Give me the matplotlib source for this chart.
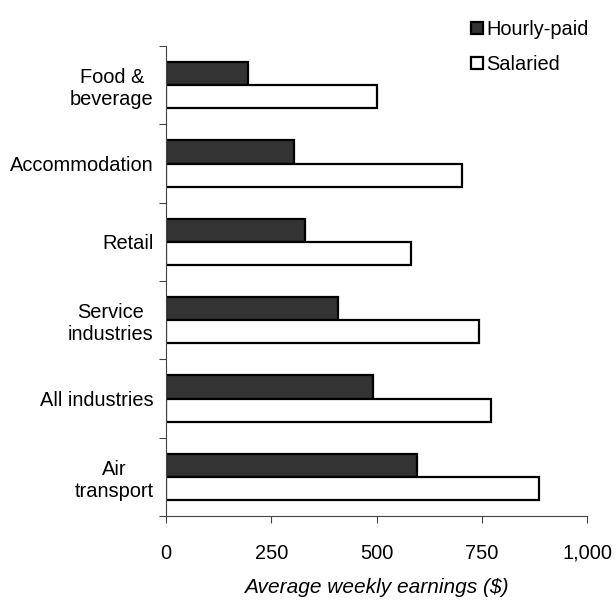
import matplotlib
matplotlib.use("Agg")
import matplotlib.pyplot as plt
import numpy as np

categories = ["Food &\nbeverage", "Accommodation", "Retail", "Service\nindustries",
              "All industries", "Air\ntransport"]
hourly = [194, 303, 329, 408, 491, 597]
salaried = [500, 704, 583, 744, 772, 887]
xticks = [0, 250, 500, 750, 1000]
xtick_labels = ["0", "250", "500", "750", "1,000"]

plt.rcParams['font.family'] = ['Liberation Sans', 'DejaVu Sans']
plt.rcParams['font.size'] = 14.4

fig = plt.figure(figsize=(6.16, 6.01), dpi=100)
ax = fig.add_axes([166/616, 1-516/601, (587-166)/616, (516-46)/601])

y = np.arange(len(categories))
h = 0.295
ax.barh(y - h/2, hourly, height=h, color='#333333', edgecolor='black', linewidth=1.6, label='Hourly-paid')
ax.barh(y + h/2, salaried, height=h, color='white', edgecolor='black', linewidth=1.6, label='Salaried')

ax.set_ylim(len(categories) - 0.5, -0.5)
ax.set_xlim(0, 1000)

# ticks at category boundaries, labels at centres
ax.set_yticks(np.arange(-0.5, len(categories), 1.0))
ax.set_yticklabels([])
ax.set_yticks(y, minor=True)
ax.set_yticklabels(categories, minor=True)
ax.tick_params(axis='y', which='minor', length=0, pad=9)
ax.tick_params(axis='y', which='major', length=5, color='#444444')
for lab in ax.get_yticklabels(minor=True):
    lab.set_multialignment('center')

ax.set_xticks(xticks)
ax.set_xticklabels(xtick_labels)
ax.tick_params(axis='x', length=5, color='#444444', pad=15)
ax.set_xlabel("Average weekly earnings ($)", style='italic', fontsize=15, labelpad=11)

for s in ['top', 'right']:
    ax.spines[s].set_visible(False)
for s in ['left', 'bottom']:
    ax.spines[s].set_color('#444444')

fig.legend(loc='upper left', bbox_to_anchor=(471/616, 1-20/601), frameon=False,
           borderpad=0, borderaxespad=0, handlelength=0.6, handleheight=0.6,
           handletextpad=0.15, labelspacing=0.8)

fig.savefig("out.png", dpi=100)
